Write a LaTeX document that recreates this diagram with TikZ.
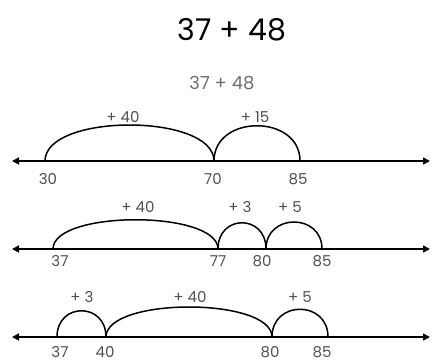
\documentclass[tikz,border=0pt]{standalone}
\usepackage{fontspec}
\usepackage{tikz}
\usetikzlibrary{arrows.meta,positioning}
\setmainfont{Poppins}
\definecolor{pencil}{RGB}{80,80,80}
\definecolor{sumgray}{RGB}{110,110,110}

\begin{document}
\begin{tikzpicture}[x=1pt,y=1pt,
  numline/.style={line width=1.6pt,<->,>={Triangle[length=7pt,width=7pt]}},
  hop/.style={line width=1.5pt,to path={.. controls +(0,#1) and +(0,#1) .. (\tikztotarget)}},
  jumplbl/.style={text=pencil,font=\fontsize{15}{15}\selectfont},
  ticklbl/.style={text=pencil,inner sep=1pt,font=\fontsize{15}{15}\selectfont}]
\useasboundingbox (0,0) rectangle (433,362);

% headings
\node[font=\fontsize{30}{32}\selectfont] (title) at (232,332) {37 + 48};
\node[text=sumgray,font=\fontsize{18}{18}\selectfont] (sum) at (222,279) {37 + 48};

% first line: 30, 70, 85
\coordinate (w1) at (12,201);
\coordinate (e1) at (430,201);
\coordinate (a30) at (45,201);
\coordinate (a70) at (214,201);
\coordinate (b85) at (300,201);
\draw[numline] (w1) -- (e1);
\draw[hop=48] (a30) to (a70);
\draw[hop=47] (a70) to (b85);
\node[jumplbl] (j40a) at (123,245) {+ 40};
\node[jumplbl] (j15) at (255,245) {+ 15};
\node[ticklbl] (n30) at (48,183) {30};
\node[ticklbl] (n70) at (213,183) {70};
\node[ticklbl] (n85a) at (298,183) {85};

% second line: 37, 77, 80, 85
\coordinate (w2) at (12,113);
\coordinate (e2) at (430,113);
\coordinate (c37) at (53,113);
\coordinate (c77) at (218,113);
\coordinate (c80) at (266,113);
\coordinate (c85) at (322,113);
\draw[numline] (w2) -- (e2);
\draw[hop=39] (c37) to (c77);
\draw[hop=35] (c77) to (c80);
\draw[hop=36] (c80) to (c85);
\node[jumplbl] (j40b) at (138,155) {+ 40};
\node[jumplbl] (j3a) at (240,155) {+ 3};
\node[jumplbl] (j5a) at (290,155) {+ 5};
\node[ticklbl] (n37a) at (60,101) {37};
\node[ticklbl] (n77) at (218,101) {77};
\node[ticklbl] (n80a) at (262,101) {80};
\node[ticklbl] (n85b) at (322,101) {85};

% third line: 37, 40, 80, 85
\coordinate (w3) at (12,25);
\coordinate (e3) at (430,25);
\coordinate (d37) at (57,25);
\coordinate (d40) at (106,25);
\coordinate (d80) at (272,25);
\coordinate (d85) at (328,25);
\draw[numline] (w3) -- (e3);
\draw[hop=35] (d37) to (d40);
\draw[hop=40] (d40) to (d80);
\draw[hop=37] (d80) to (d85);
\node[jumplbl] (j3b) at (82,65) {+ 3};
\node[jumplbl] (j40c) at (190,65) {+ 40};
\node[jumplbl] (j5b) at (300,65) {+ 5};
\node[ticklbl] (n37b) at (60,10) {37};
\node[ticklbl] (n40) at (105,10) {40};
\node[ticklbl] (n80b) at (270,10) {80};
\node[ticklbl] (n85c) at (322,10) {85};
\end{tikzpicture}
\end{document}
